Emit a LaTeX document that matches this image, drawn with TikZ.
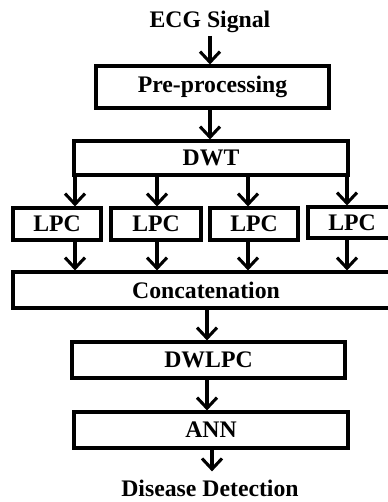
\documentclass[tikz,border=0pt]{standalone}
\usepackage{fontspec}
\setmainfont{Liberation Serif}
\usetikzlibrary{arrows.meta}

\begin{document}
\begin{tikzpicture}[x=0.75pt,y=-0.75pt,
  txt/.style={font=\bfseries\fontsize{17.8}{20}\selectfont,inner sep=2pt},
  blk/.style={txt,draw,line width=2.3pt,inner sep=0pt},
  flow/.style={line width=2.3pt,-{Straight Barb[length=8pt,width=15pt,line width=2.3pt]}}]
\useasboundingbox (0,0) rectangle (388,502);
\clip (0,0) rectangle (388,502);

\node[txt] (ecg) at (210,22) {ECG Signal};
\node[blk,minimum width=174.75pt,minimum height=31.5pt] (pre) at (212.5,87) {Pre-processing};
\node[blk,minimum width=205.5pt,minimum height=25.5pt] (dwt) at (211,158) {DWT};

\node[blk,minimum width=66pt,minimum height=24pt] (lpc1) at (57,224) {LPC};
\node[blk,minimum width=67.5pt,minimum height=24pt] (lpc2) at (156,224) {LPC};
\node[blk,minimum width=66pt,minimum height=24pt] (lpc3) at (254,224) {LPC};
\node[blk,minimum width=66pt,minimum height=23.25pt] (lpc4) at (352,222.5) {LPC};

\node[blk,minimum width=289.5pt,minimum height=27pt] (cat) at (206,290) {Concatenation};
\node[blk,minimum width=204.75pt,minimum height=27pt] (dwlpc) at (208.5,360) {DWLPC};
\node[blk,minimum width=205.5pt,minimum height=27pt] (ann) at (211,430) {ANN};
\node[txt,inner sep=1pt] (dis) at (210,488) {Disease Detection};

\coordinate (m1) at (210,0);
\coordinate (m2) at (207,0);
\coordinate (m3) at (212,0);

\draw[flow] (ecg.south -| m1) -- (pre.north -| m1);
\draw[flow] (pre.south -| m1) -- (dwt.north -| m1);

\foreach \tx [count=\i] in {75,157,248,347}{
  \coordinate (t\i) at (\tx,0);
  \draw[flow] (dwt.south -| t\i) -- (lpc\i.north -| t\i);
  \draw[flow] (lpc\i.south -| t\i) -- (cat.north -| t\i);
}

\draw[flow] (cat.south -| m2) -- (dwlpc.north -| m2);
\draw[flow] (dwlpc.south -| m2) -- (ann.north -| m2);
\draw[flow,shorten >=5pt] (ann.south -| m3) -- (dis.north -| m3);

\end{tikzpicture}
\end{document}
